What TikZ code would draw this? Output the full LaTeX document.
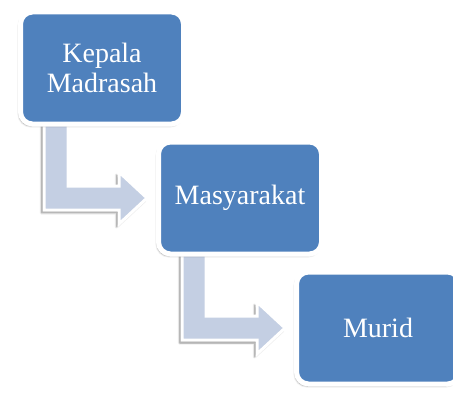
\documentclass[tikz,border=0pt]{standalone}
\usepackage{fontspec}
\setmainfont{Liberation Serif}
\usepackage{tikz}
\usetikzlibrary{positioning,calc,backgrounds,shadows.blur}
\definecolor{biru}{RGB}{79,129,189}
\definecolor{birumuda}{RGB}{196,207,227}
\tikzset{
  kotak/.style={draw=white,line width=5pt,fill=biru,rounded corners=12pt,
    minimum width=163pt,minimum height=112pt,outer sep=0pt,inner sep=2pt,
    text=white,align=center,font=\fontsize{28}{30}\selectfont,
    blur shadow={shadow xshift=-1.5pt,shadow yshift=-2pt,shadow opacity=45,shadow blur steps=6}},
  panah/.style={draw=white,line width=3pt,fill=birumuda,line join=miter,
    blur shadow={shadow xshift=-2.5pt,shadow yshift=-3pt,shadow opacity=45,shadow blur steps=6}},
}
\newcommand{\panahbelok}[2]{%
  \path[panah] ($(#1.south west)+(23.5pt,6pt)$) |- ($(#2.west)+(-39.5pt,-12pt)$)
    -- ++(0,-14pt) -- ($(#2.west)+(-11.5pt,0)$) -- ($(#2.west)+(-39.5pt,26pt)$)
    -- ++(0,-14pt) -| ($(#1.south west)+(47.5pt,6pt)$) -- cycle;}

\begin{document}
\begin{tikzpicture}[x=1pt,y=1pt,node distance=18pt and -25pt]
  \useasboundingbox (0,0) rectangle (453,392);
  \node[kotak] (kepala) at (102,324) {Kepala\\Madrasah};
  \node[kotak] (masy) [below right=of kepala] {Masyarakat};
  \node[kotak] (murid) [below right=of masy] {Murid};
  \begin{scope}[on background layer]
    \panahbelok{kepala}{masy}
    \panahbelok{masy}{murid}
  \end{scope}
\end{tikzpicture}
\end{document}
